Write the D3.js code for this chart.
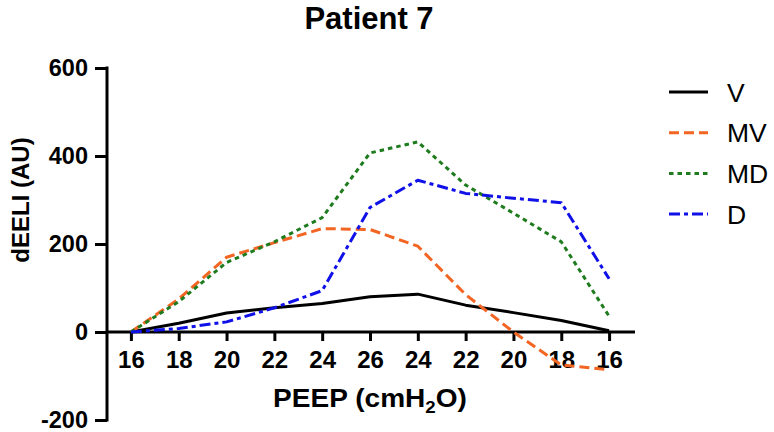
<!DOCTYPE html>
<html>
<head>
<meta charset="utf-8">
<script src="https://cdn.jsdelivr.net/npm/d3@7"></script>
<style>
  body { margin: 0; background: #fff; }
  svg { display: block; }
  text { font-family: "Liberation Sans", Arial, Helvetica, sans-serif; }
</style>
</head>
<body>
<svg id="chart" width="774" height="432"></svg>
<script>
const categories = ["16", "18", "20", "22", "24", "26", "24", "22", "20", "18", "16"];
const seriesNames = ["V", "MV", "MD", "D"];
const V  = [0, 20, 43, 55, 65, 80, 86, 61, 44, 26, 3];
const MV = [0, 75, 170, 203, 235, 233, 195, 85, 0, -75, -86];
const MD = [0, 69, 158, 205, 260, 407, 432, 334, 270, 205, 36];
const D  = [0, 8, 23, 55, 94, 283, 345, 315, 304, 294, 121];
const yTicks = [-200, 0, 200, 400, 600];
const colors = ["#000000", "#f26522", "#1e7b1e", "#1010e8"];
const dashes = [null, "10,5", "4.5,4", "11,4,4,4"];

const svg = d3.select("#chart");
const pLeft = 107, pRight = 633, pTop = 68, pBottom = 420;

const idx = categories.map((c, i) => i);
const x = d3.scalePoint().domain(idx).range([pLeft, pRight]).padding(0.5);
const y = d3.scaleLinear().domain([-200, 600]).range([pBottom, pTop]);

// Title
svg.append("text").attr("x", 369).attr("y", 29)
  .attr("text-anchor", "middle").attr("font-size", 31).attr("font-weight", "bold")
  .text("Patient 7");

// Y axis
const yAxis = svg.append("g").attr("transform", `translate(${pLeft},0)`)
  .call(d3.axisLeft(y).tickValues(yTicks).tickSize(12).tickPadding(7).tickFormat(d => String(d)));
yAxis.select(".domain").attr("stroke-width", 3).attr("d", `M0,${pBottom + 1.5}V${pTop - 1.5}`);
yAxis.selectAll(".tick line").attr("stroke-width", 3);
yAxis.selectAll(".tick text").attr("font-size", 23.5).attr("font-weight", "bold")
  .attr("font-family", "Liberation Sans, Arial, sans-serif").attr("fill", "#000");

// X axis at y=0
const xAxis = svg.append("g").attr("transform", `translate(0,${y(0)})`)
  .call(d3.axisBottom(x).tickSize(9).tickPadding(10).tickFormat(i => categories[i]));
xAxis.select(".domain").attr("stroke-width", 3).attr("d", `M${pLeft},0H${pRight + 2}`);
xAxis.selectAll(".tick line").attr("stroke-width", 3);
xAxis.selectAll(".tick text").attr("font-size", 24).attr("font-weight", "bold")
  .attr("font-family", "Liberation Sans, Arial, sans-serif").attr("fill", "#000");

// Axis labels
svg.append("text").attr("transform", `translate(29,${(y(0) + y(600)) / 2}) rotate(-90)`)
  .attr("text-anchor", "middle").attr("font-size", 24).attr("font-weight", "bold")
  .text("dEELI (AU)");

const xl = svg.append("text").attr("transform", "translate(370,407) scale(1.1,1)")
  .attr("text-anchor", "middle").attr("font-size", 25.5).attr("font-weight", "bold");
xl.append("tspan").text("PEEP (cmH");
xl.append("tspan").attr("font-size", 17).attr("dy", 6).text("2");
xl.append("tspan").attr("dy", -6).text("O)");

// Lines
const data = [V, MV, MD, D];
const line = d3.line().x((d, i) => x(i)).y(d => y(d));
data.forEach((vals, k) => {
  svg.append("path").datum(vals)
    .attr("fill", "none").attr("stroke", colors[k]).attr("stroke-width", 3)
    .attr("stroke-dasharray", dashes[k]).attr("stroke-linejoin", "round")
    .attr("d", line);
});

// Legend
const lg = svg.append("g");
seriesNames.forEach((name, k) => {
  const yy = 92 + k * 40.7;
  lg.append("line").attr("x1", 669).attr("x2", 708).attr("y1", yy).attr("y2", yy)
    .attr("stroke", colors[k]).attr("stroke-width", 3).attr("stroke-dasharray", dashes[k]);
  lg.append("text").attr("x", 727).attr("y", yy + 9.5).attr("font-size", 26.5)
    .text(name);
});
</script>
</body>
</html>
